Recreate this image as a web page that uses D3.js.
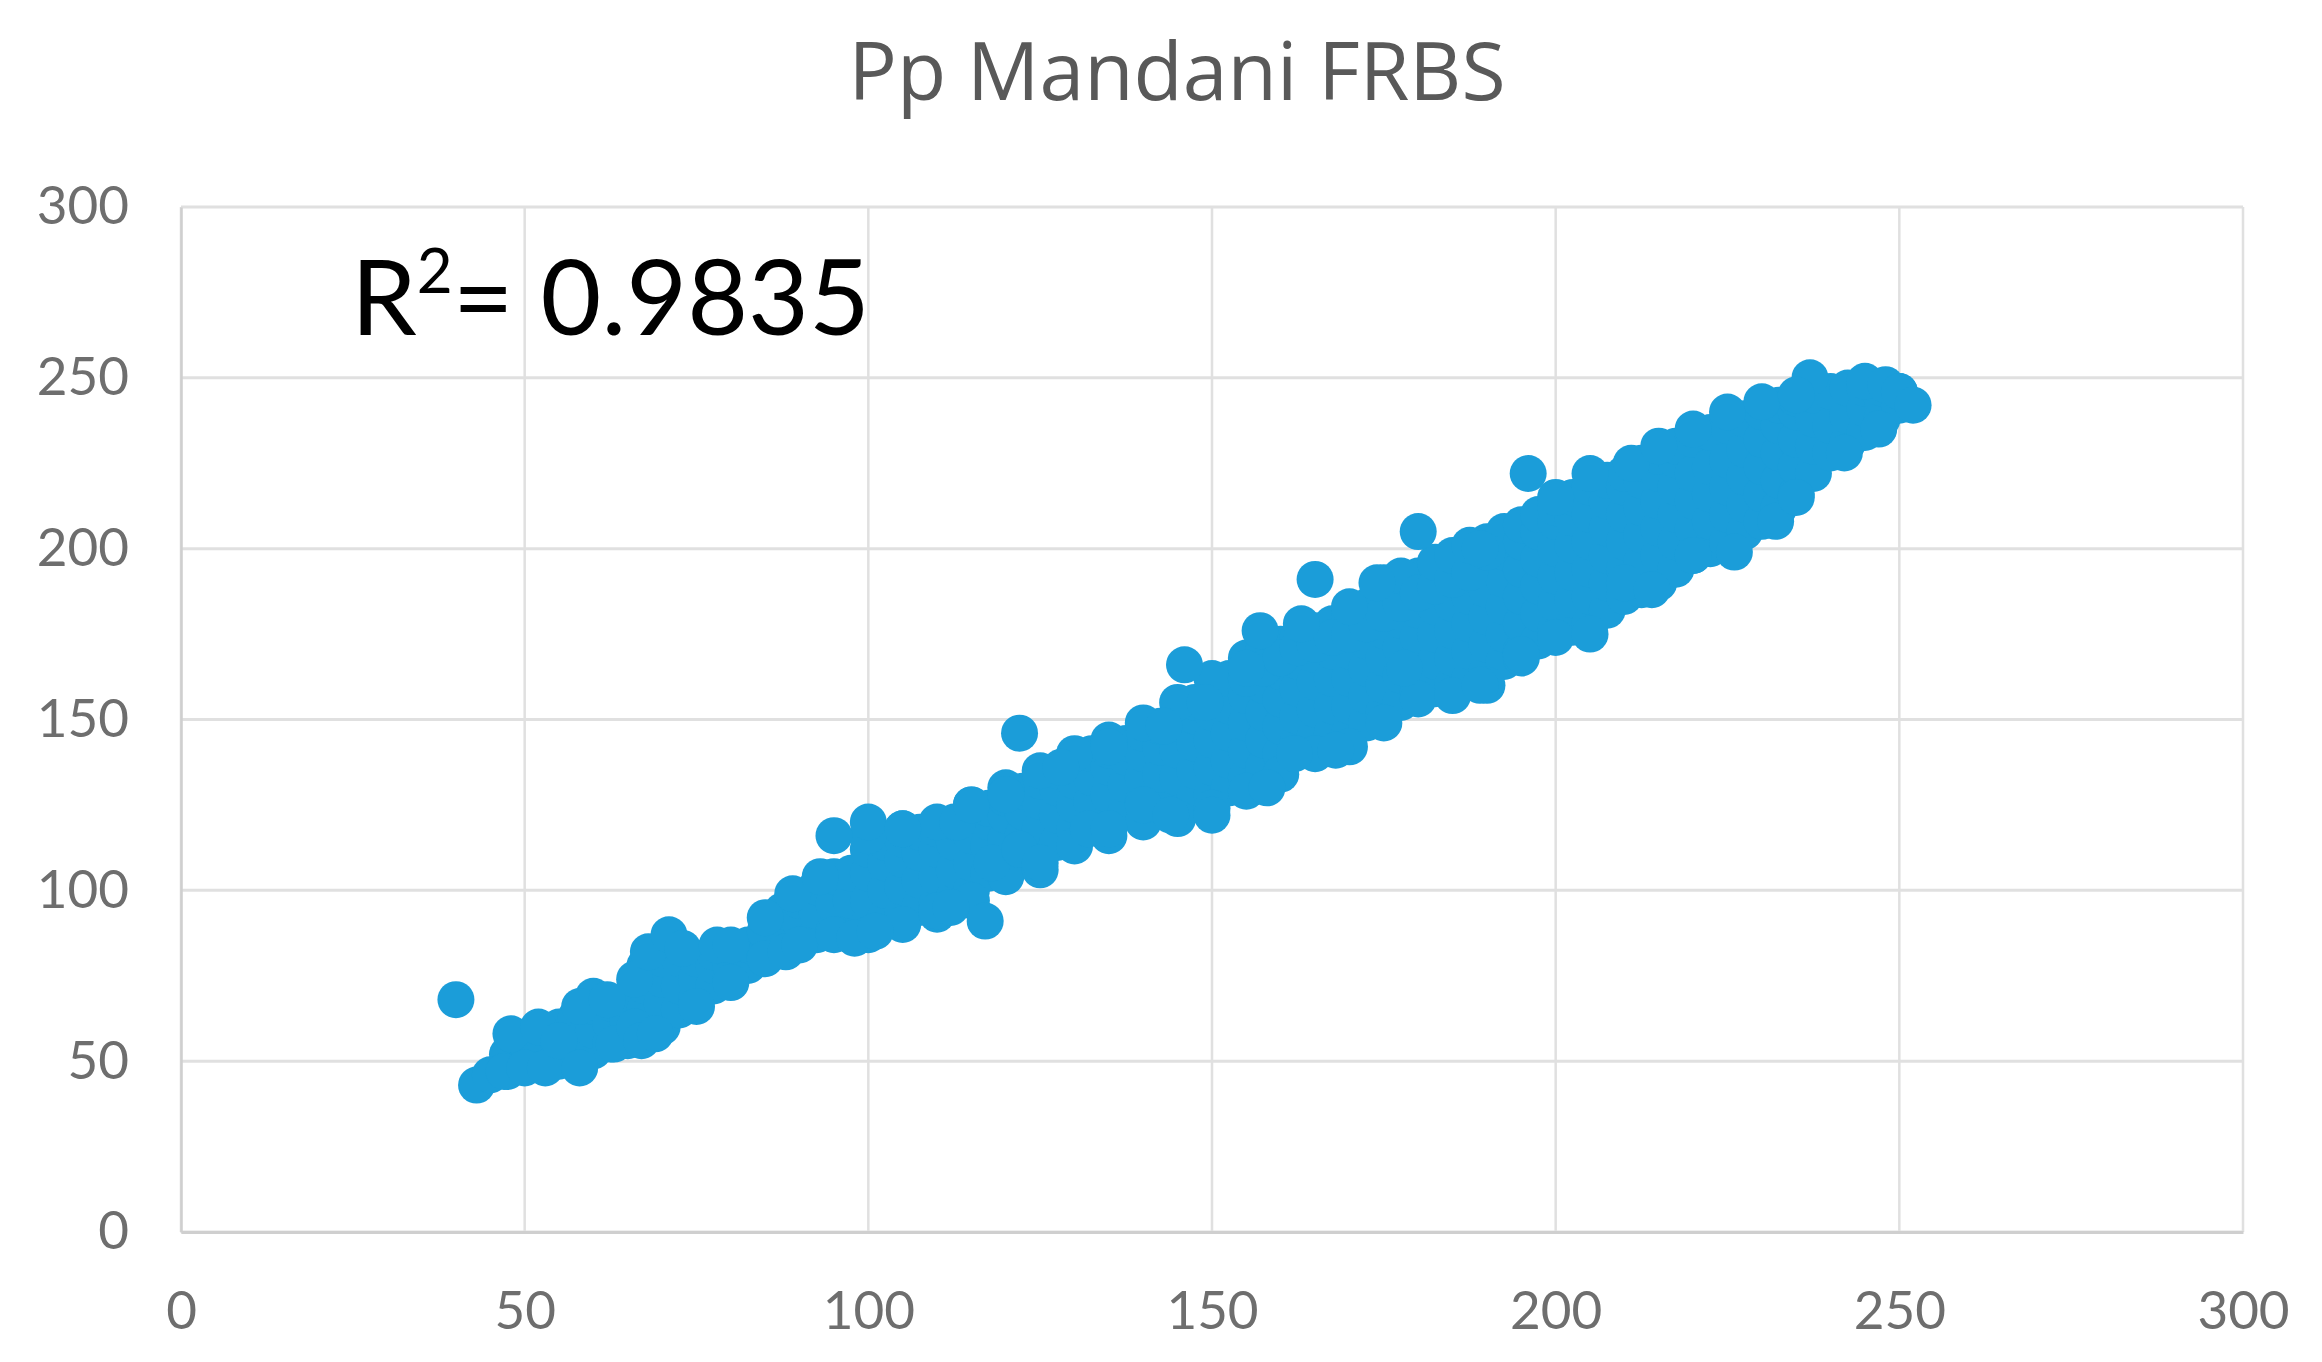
<!DOCTYPE html>
<html><head><meta charset="utf-8">
<script src="https://cdn.jsdelivr.net/npm/d3@7"></script>
<style>html,body{margin:0;background:#fff}svg{display:block}</style></head>
<body><div id="c"></div>
<script>
const chartTitle = "Pp Mandani FRBS";
const xTicks = [0,50,100,150,200,250,300];
const yTicks = [0,50,100,150,200,250,300];
const outerPoints = [[40,68],[43,43],[45,46],[47,47],[50,48],[53,48],[48,58],[52,60],[55,56],[58,48],[60,69],[58,66],[62,68],[63,55],[66,60],[67,56],[69,58],[66,74],[68,82],[71,87],[73,83],[75,66],[78,84],[80,84],[80,73],[85,80],[85,92],[88,82],[89,99],[90,84],[93,104],[95,87],[95,116],[100,120],[98,86],[101,88],[105,118],[110,94],[112,95],[113,120],[115,125],[117,91],[118,108],[120,128],[122,146],[122,112],[125,108],[128,136],[132,118],[135,118],[135,142],[140,125],[143,148],[144,122],[146,166],[150,122],[149,155],[155,165],[157,176],[158,130],[163,178],[165,191],[162,140],[168,141],[170,183],[175,149],[174,190],[180,205],[178,165],[185,157],[189,160],[189,200],[195,169],[196,222],[200,215],[205,175],[205,222],[211,225],[210,190],[215,230],[220,235],[214,188],[220,198],[226,199],[225,240],[230,243],[232,208],[235,215],[237,250],[235,245],[242,228],[245,249],[248,248],[250,246],[252,242],[247,235]];
const upperEdge = [[100,116],[105,118],[110,120],[115,125],[120,130],[125,135],[130,140],[135,144],[140,149],[145,155],[150,162],[155,162],[157.5,165],[160,168],[162.5,171],[165,172],[167.5,174],[170,175],[172.5,178],[175,181],[175,190],[177.5,184],[177.5,192],[180,187],[182.5,189],[182.5,196],[185,191],[185,198],[187.5,193],[187.5,201],[190,199]];
const lowerEdge = [[100,87],[105,90],[110,93],[115,97],[120,104],[125,106],[130,113],[135,116],[140,120],[145,121],[150,124],[155,129],[160,134],[165,140],[170,142],[180,156],[190,160],[195,168],[200,174]];
const bandColumns = [
[47.5,[47,52]],[50,[49,56]],[52.5,[50,58]],[55,[50,55,60]],[57.5,[52,57,63]],[60,[53,59,66]],[62.5,[55,61,67]],[65,[56,62,68]],
[67.5,[58,65,72,78]],[70,[60,67,74,80]],[72.5,[65,72,80]],[75,[68,74,80]],[77.5,[72,78,82]],[80,[74,78,82]],[82.5,[78,84]],[85,[81,88]],
[87.5,[83,90,94]],[90,[85,91,97]],[92.5,[87,94,101]],[95,[88,96,104]],[97.5,[89,97,105]],[100,[90,97,105,112]],[102.5,[92,100,108,114]],[105,[93,101,109,115]],
[107.5,[95,103,111,117]],[110,[96,104,112,118]],[112.5,[98,106,114,120]],[115,[100,108,116,122]],[117.5,[105,113,120,124]],[120,[108,115,122,127]],[122.5,[109,116,123,129]],[125,[110,118,126,132]],
[127.5,[114,122,130,135]],[130,[118,125,132,138]],[132.5,[119,126,133,140]],[135,[120,128,136,141]],[137.5,[123,131,139,143]],[140,[126,133,140,146]],[142.5,[126,134,142,148]],[145,[125,133,141,149,152]],
[147.5,[127,135,143,151,155]],[150,[128,136,144,152,158]],[152.5,[130,138,146,154,162]],[155,[133,141,149,157,168]],[157.5,[136,144,152,160,170]],[160,[140,148,156,164,172]],[162.5,[143,151,159,167,174]],[165,[145,153,161,169,176]],
[167.5,[146,154,162,170,178]],[170,[146,154,162,170,180]],[172.5,[149,157,165,173,183]],[175,[152,160,168,176,186]],[177.5,[155,163,171,179,189]],[180,[158,166,174,182,192]],[182.5,[159,167,175,183,194]],[185,[160,168,176,184,196]],
[187.5,[162,170,178,186,199]],[190,[164,172,180,188,196,202]],[192.5,[167,175,183,191,199,205]],[195,[170,178,186,194,202,207]],[197.5,[173,181,189,197,205,210]],[200,[176,184,192,200,208,212]],[202.5,[177,185,193,201,209,215]],[205,[178,186,194,202,210,218]],
[207.5,[182,190,198,206,214,220]],[210,[186,194,202,210,218,222]],[212.5,[188,196,204,212,220,225]],[215,[190,198,206,214,222,227]],[217.5,[194,202,210,218,226,230]],[220,[198,206,214,222,232]],[222.5,[200,208,216,224,234]],[225,[202,210,218,226,236]],
[227.5,[205,213,221,229,238]],[230,[208,216,224,232,240]],[232.5,[212,220,228,236,242]],[235,[216,224,232,240,244]],[237.5,[222,230,238,245]],[240,[228,236,246]],[242.5,[231,239,247]],[245,[234,241,247]],[247.5,[238,244,247]],[250,[242,246]]
];

const W=2322,H=1362;
const svg=d3.select("#c").append("svg").attr("width",W).attr("height",H);
const x=d3.scaleLinear().domain([0,300]).range([181,2243]);
const y=d3.scaleLinear().domain([0,300]).range([1232,207]);
const grid="#e0e0e0", axisCol="#cfcfcf", tickCol="#6e6e6e";

svg.append("g").selectAll("line").data(xTicks).join("line")
  .attr("x1",d=>x(d)).attr("x2",d=>x(d)).attr("y1",y(300)).attr("y2",y(0))
  .attr("stroke",grid).attr("stroke-width",2.5);
svg.append("g").selectAll("line").data(yTicks).join("line")
  .attr("x1",x(0)).attr("x2",x(300)).attr("y1",d=>y(d)).attr("y2",d=>y(d))
  .attr("stroke",grid).attr("stroke-width",3);

const gx=svg.append("g").attr("transform",`translate(0,${y(0)})`)
  .call(d3.axisBottom(x).tickValues(xTicks).tickSize(0).tickPadding(59));
const gy=svg.append("g").attr("transform",`translate(${x(0)},0)`)
  .call(d3.axisLeft(y).tickValues(yTicks).tickSize(0).tickPadding(52));
gx.select(".domain").attr("stroke",axisCol).attr("stroke-width",3);
gy.select(".domain").attr("stroke",axisCol).attr("stroke-width",2.5);
svg.selectAll(".tick text").attr("font-family","Lato").attr("font-size",53).attr("fill",tickCol);

const bandPoints = bandColumns.flatMap(c=>c[1].map(v=>[c[0],v]));
svg.append("g").selectAll("circle").data(bandPoints.concat(upperEdge,lowerEdge,outerPoints)).join("circle")
  .attr("cx",d=>x(d[0])).attr("cy",d=>y(d[1])).attr("r",18.5).attr("fill","#1b9dd9");

svg.append("text").attr("x",1177).attr("y",100).attr("text-anchor","middle")
  .attr("font-family","Open Sans").attr("font-size",80.5).attr("fill","#595959").text(chartTitle);

const r2=svg.append("text").attr("x",351).attr("y",335).attr("font-family","Lato").attr("font-size",105).attr("fill","#000");
r2.append("tspan").text("R");
r2.append("tspan").attr("font-size",62).attr("dy",-42).text("2");
r2.append("tspan").attr("dy",42).text("= 0.9835");
</script></body></html>
